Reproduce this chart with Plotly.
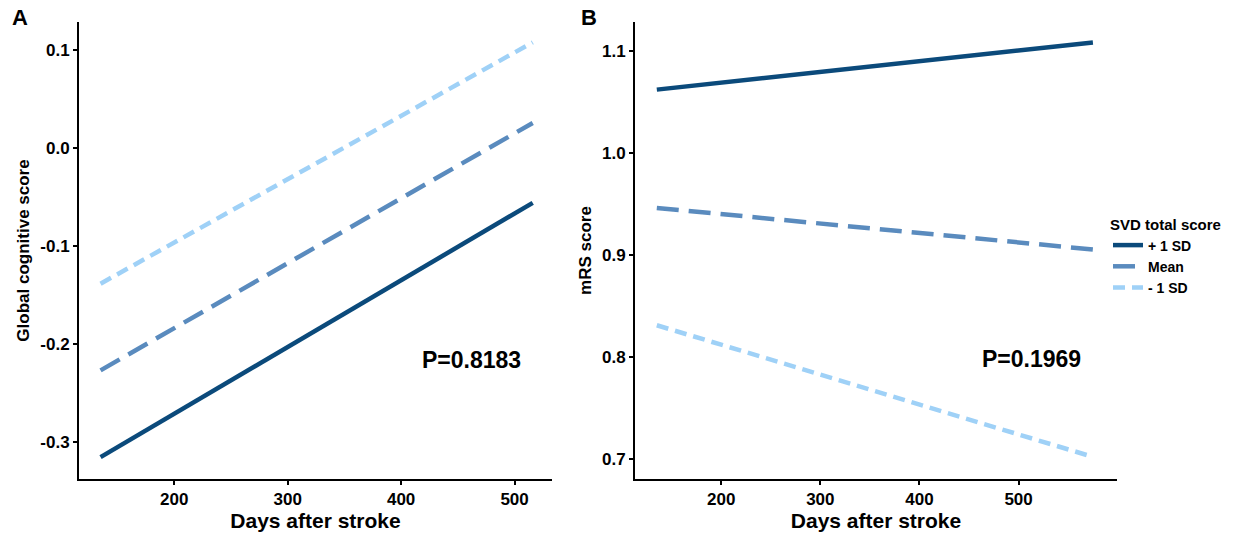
import plotly.graph_objects as go

# ---- data ----
days = [135, 516]
cog_plus1sd = [-0.3156, -0.0559]
cog_mean = [-0.227, 0.0257]
cog_minus1sd = [-0.1385, 0.108]

days_b = [135, 575]
mrs_plus1sd = [1.0617, 1.108]
mrs_mean = [0.9457, 0.905]
mrs_minus1sd = [0.8307, 0.7017]

series_names = ["+ 1 SD", "Mean", "- 1 SD"]
p_a = "P=0.8183"
p_b = "P=0.1969"

colors = ["#0b4a7b", "#5a8bbe", "#9fd1f7"]
dashes = ["solid", "22px,10px", "12px,7px"]

FONT = "Liberation Sans, Arial, sans-serif"

fig = go.Figure()

for i, ys in enumerate([cog_plus1sd, cog_mean, cog_minus1sd]):
    fig.add_trace(go.Scatter(x=days, y=ys, mode="lines", name=series_names[i],
                             line=dict(color=colors[i], width=4.5, dash=dashes[i]),
                             xaxis="x", yaxis="y", showlegend=False))
for i, ys in enumerate([mrs_plus1sd, mrs_mean, mrs_minus1sd]):
    fig.add_trace(go.Scatter(x=days_b, y=ys, mode="lines", name=series_names[i],
                             line=dict(color=colors[i], width=4.5, dash=dashes[i]),
                             xaxis="x2", yaxis="y2", showlegend=True))

W, H = 1241, 535
ydom = [1 - 479 / H, 1 - 22 / H]

axis_common = dict(showgrid=False, zeroline=False, showline=True, linecolor="black",
                   linewidth=2, ticks="outside", ticklen=4, tickwidth=1.5, tickcolor="black",
                   automargin=False,
                   tickfont=dict(family=FONT, size=17, color="black", weight="bold"))

fig.update_layout(
    width=W, height=H,
    margin=dict(l=0, r=0, t=0, b=0, autoexpand=False),
    plot_bgcolor="white", paper_bgcolor="white",
    font=dict(family=FONT, color="black"),
    xaxis=dict(domain=[79 / W, 552 / W], range=[116, 533], tickvals=[200, 300, 400, 500],
               title=dict(text="Days after stroke", font=dict(family=FONT, size=21, weight="bold"), standoff=4),
               anchor="y", **axis_common),
    yaxis=dict(domain=ydom, range=[-0.338, 0.1288], tickvals=[-0.3, -0.2, -0.1, 0.0, 0.1],
               ticktext=["-0.3", "-0.2", "-0.1", "0.0", "0.1"],
               title=dict(text="Global cognitive score", font=dict(family=FONT, size=17, weight="bold"), standoff=6),
               anchor="x", **axis_common),
    xaxis2=dict(domain=[635 / W, 1117 / W], range=[113, 599.3], tickvals=[200, 300, 400, 500],
                title=dict(text="Days after stroke", font=dict(family=FONT, size=21, weight="bold"), standoff=4),
                anchor="y2", **axis_common),
    yaxis2=dict(domain=ydom, range=[0.68, 1.128], tickvals=[0.7, 0.8, 0.9, 1.0, 1.1],
                ticktext=["0.7", "0.8", "0.9", "1.0", "1.1"],
                title=dict(text="mRS score", font=dict(family=FONT, size=17, weight="bold"), standoff=6),
                anchor="x2", **axis_common),
    legend=dict(x=1108 / W, y=1 - 210 / H, xanchor="left", yanchor="top",
                title=dict(text="SVD total score", side="top center",
                           font=dict(family=FONT, size=15, weight="bold")),
                font=dict(family=FONT, size=14, color="black", weight="bold"),
                itemwidth=30, tracegroupgap=0, bgcolor="rgba(0,0,0,0)"),
    annotations=[
        dict(text="A", x=10 / W, y=1 - 3 / H, xref="paper", yref="paper", xanchor="left", yanchor="top",
             showarrow=False, font=dict(family=FONT, size=22, weight="bold")),
        dict(text="B", x=579 / W, y=1 - 3 / H, xref="paper", yref="paper", xanchor="left", yanchor="top",
             showarrow=False, font=dict(family=FONT, size=22, weight="bold")),
        dict(text=p_a, x=462, y=-0.216, xref="x", yref="y", showarrow=False,
             font=dict(family=FONT, size=23, weight="bold")),
        dict(text=p_b, x=513, y=0.798, xref="x2", yref="y2", showarrow=False,
             font=dict(family=FONT, size=23, weight="bold")),
    ],
)

fig.write_html("out.html", config={"displayModeBar": False},
               post_script="document.body.style.margin='0px';document.body.style.overflow='hidden';")
